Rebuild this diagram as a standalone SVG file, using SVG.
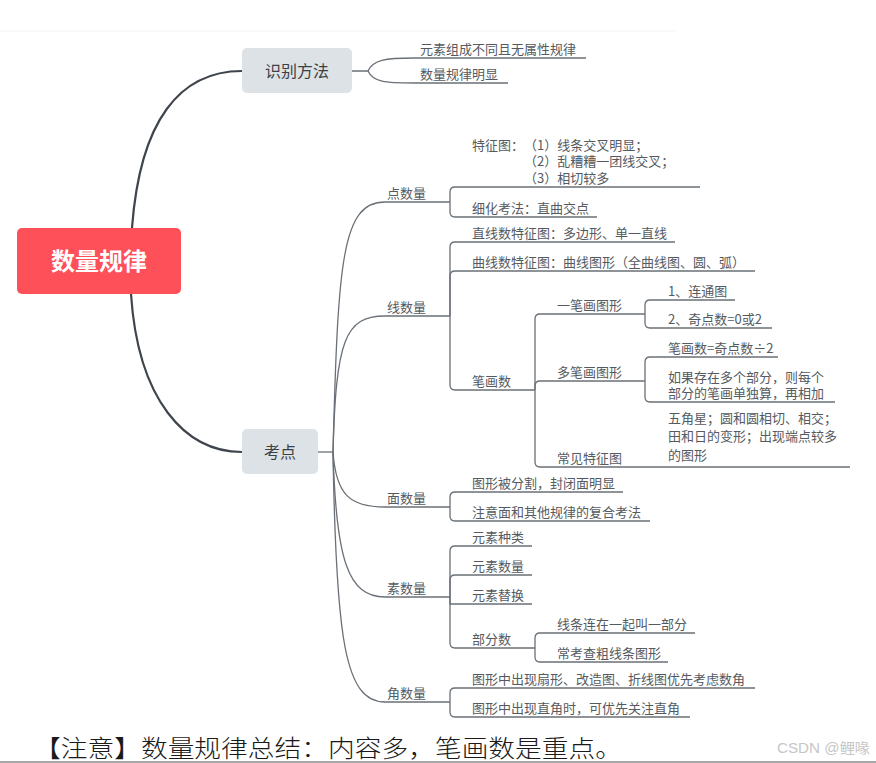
<svg xmlns="http://www.w3.org/2000/svg" width="876" height="763" viewBox="0 0 876 763">
<style>
.t{font-family:"Noto Sans CJK SC","Liberation Sans",sans-serif;font-size:13px;fill:#555a5f}
.n{font-family:"Noto Sans CJK SC","Liberation Sans",sans-serif;font-size:16px;fill:#3c4146;text-anchor:middle}
.root{font-family:"Noto Sans CJK SC","Liberation Sans",sans-serif;font-size:24px;font-weight:bold;fill:#ffffff;text-anchor:middle}
.main{fill:none;stroke:#3f454c;stroke-width:2.2}
.br{fill:none;stroke:#6a7077;stroke-width:1.3}
.box{fill:#dce2e5}
</style>
<rect width="876" height="763" fill="#ffffff"/>
<line x1="0" y1="31" x2="676" y2="31" stroke="#f3f3f3" stroke-width="1"/>
<g id="connectors">
<path class="main" d="M132 228 C140 120 180 71 242 71"/>
<path class="main" d="M131 294 C138 400 185 452 242 452"/>
<path class="br" d="M352 71 H368 C373 60 385 58 414 58 H586"/>
<path class="br" d="M368 71 C373 82 385 83 414 83 H508"/>
<path class="br" d="M318 452 H333"/>
<path class="br" d="M333 452 C338 260 342 202 385 202 H450"/>
<path class="br" d="M333 452 C336 340 345 316 385 316 H450"/>
<path class="br" d="M333 452 C336 495 350 507 385 507 H450"/>
<path class="br" d="M333 452 C336 560 348 597 385 597 H450"/>
<path class="br" d="M333 452 C336 640 345 702 385 702 H450"/>
<path class="br" d="M450 202 V192 Q450 187 455 187 H700"/>
<path class="br" d="M450 202 V212 Q450 217 455 217 H597"/>
<path class="br" d="M450 316 V247 Q450 242 455 242 H675"/>
<path class="br" d="M450 316 V276 Q450 271 455 271 H755"/>
<path class="br" d="M450 316 V385 Q450 390 455 390 H535"/>
<path class="br" d="M535 390 V319 Q535 314 540 314 H645"/>
<path class="br" d="M535 390 V386 Q535 381 540 381 H645"/>
<path class="br" d="M535 390 V462 Q535 467 540 467 H850"/>
<path class="br" d="M645 314 V305 Q645 300 650 300 H735"/>
<path class="br" d="M645 314 V323 Q645 328 650 328 H772"/>
<path class="br" d="M645 381 V362 Q645 357 650 357 H778"/>
<path class="br" d="M645 381 V397 Q645 402 650 402 H835"/>
<path class="br" d="M450 507 V497 Q450 492 455 492 H623"/>
<path class="br" d="M450 507 V516 Q450 521 455 521 H650"/>
<path class="br" d="M450 597 V551 Q450 546 455 546 H532"/>
<path class="br" d="M450 597 V580 Q450 575 455 575 H532"/>
<path class="br" d="M450 597 V604 H532"/>
<path class="br" d="M450 597 V643 Q450 648 455 648 H535"/>
<path class="br" d="M535 648 V638 Q535 633 540 633 H695"/>
<path class="br" d="M535 648 V657 Q535 662 540 662 H668"/>
<path class="br" d="M450 702 V693 Q450 688 455 688 H755"/>
<path class="br" d="M450 702 V712 Q450 717 455 717 H690"/>
</g>
<g id="root">
<rect x="17" y="228" width="164" height="66" rx="5" fill="#fd5058"/>
<text class="root" x="99" y="270">数量规律</text>
</g>
<g id="n-shibie">
<rect class="box" x="242" y="48" width="110" height="45" rx="5"/>
<text class="n" x="297" y="76.5">识别方法</text>
</g>
<g id="n-shibie-1"><text class="t" x="420" y="53.5">元素组成不同且无属性规律</text></g>
<g id="n-shibie-2"><text class="t" x="420" y="78.5">数量规律明显</text></g>
<g id="n-kaodian">
<rect class="box" x="242" y="429" width="76" height="45" rx="5"/>
<text class="n" x="280" y="457.5">考点</text>
</g>
<g id="n-dian"><text class="t" x="387" y="197.5">点数量</text></g>
<g id="n-dian-1">
<text class="t" x="472" y="149.5">特征图：</text>
<text class="t" x="524" y="149.5">（1）线条交叉明显；</text>
<text class="t" x="524" y="166">（2）乱糟糟一团线交叉；</text>
<text class="t" x="524" y="182.5">（3）相切较多</text>
</g>
<g id="n-dian-2"><text class="t" x="472" y="212.5">细化考法：直曲交点</text></g>
<g id="n-xian"><text class="t" x="387" y="311.5">线数量</text></g>
<g id="n-xian-1"><text class="t" x="472" y="237.5">直线数特征图：多边形、单一直线</text></g>
<g id="n-xian-2"><text class="t" x="472" y="266.5">曲线数特征图：曲线图形（全曲线图、圆、弧）</text></g>
<g id="n-bihua"><text class="t" x="472" y="385.5">笔画数</text></g>
<g id="n-yibi"><text class="t" x="557" y="309.5">一笔画图形</text></g>
<g id="n-yibi-1"><text class="t" x="668" y="295.5">1、连通图</text></g>
<g id="n-yibi-2"><text class="t" x="668" y="323.5">2、奇点数=0或2</text></g>
<g id="n-duobi"><text class="t" x="557" y="376.5">多笔画图形</text></g>
<g id="n-duobi-1"><text class="t" x="668" y="352.5">笔画数=奇点数÷2</text></g>
<g id="n-duobi-2">
<text class="t" x="668" y="381.5">如果存在多个部分，则每个</text>
<text class="t" x="668" y="397.5">部分的笔画单独算，再相加</text>
</g>
<g id="n-changjian"><text class="t" x="557" y="462.5">常见特征图</text></g>
<g id="n-changjian-1">
<text class="t" x="668" y="423">五角星；圆和圆相切、相交；</text>
<text class="t" x="668" y="441">田和日的变形；出现端点较多</text>
<text class="t" x="668" y="459.5">的图形</text>
</g>
<g id="n-mian"><text class="t" x="387" y="502.5">面数量</text></g>
<g id="n-mian-1"><text class="t" x="472" y="487.5">图形被分割，封闭面明显</text></g>
<g id="n-mian-2"><text class="t" x="472" y="516.5">注意面和其他规律的复合考法</text></g>
<g id="n-su"><text class="t" x="387" y="592.5">素数量</text></g>
<g id="n-su-1"><text class="t" x="472" y="541.5">元素种类</text></g>
<g id="n-su-2"><text class="t" x="472" y="570.5">元素数量</text></g>
<g id="n-su-3"><text class="t" x="472" y="599.5">元素替换</text></g>
<g id="n-bufen"><text class="t" x="472" y="643.5">部分数</text></g>
<g id="n-bufen-1"><text class="t" x="557" y="628.5">线条连在一起叫一部分</text></g>
<g id="n-bufen-2"><text class="t" x="557" y="657.5">常考查粗线条图形</text></g>
<g id="n-jiao"><text class="t" x="387" y="697.5">角数量</text></g>
<g id="n-jiao-1"><text class="t" x="472" y="683.5">图形中出现扇形、改造图、折线图优先考虑数角</text></g>
<g id="n-jiao-2"><text class="t" x="472" y="712.5">图形中出现直角时，可优先关注直角</text></g>
<text x="34" y="757" font-family="'Liberation Serif','Noto Sans CJK SC',serif" font-size="24" font-weight="300" fill="#1a1a1a" textLength="588" lengthAdjust="spacingAndGlyphs">【注意】数量规律总结：内容多，笔画数是重点。</text>
<text x="777" y="753" font-family="'Liberation Sans','Noto Sans CJK SC',sans-serif" font-size="14" fill="#c6c6c6" textLength="93" lengthAdjust="spacingAndGlyphs">CSDN @鲤喙</text>
<rect x="0" y="761" width="876" height="2" fill="#a8a8a8"/>
</svg>
